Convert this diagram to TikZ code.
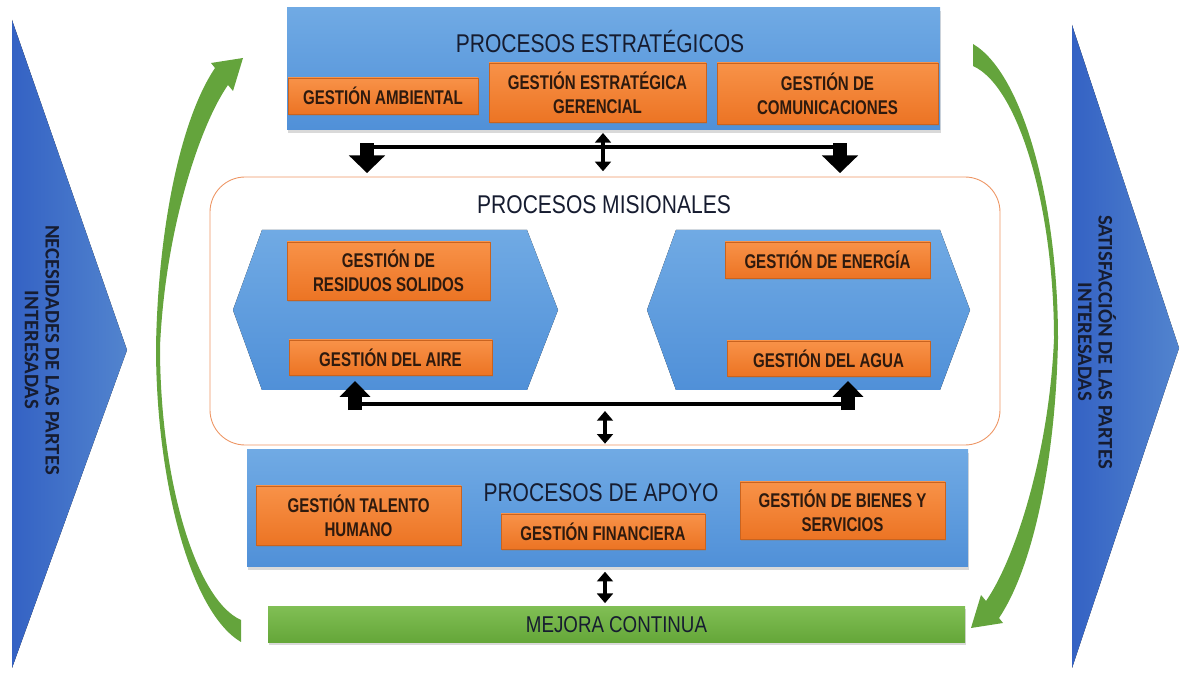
\documentclass[tikz,border=0pt]{standalone}
\usepackage{fontspec}
\setmainfont{Liberation Sans}[FakeStretch=0.82]
\newfontfamily\boxfont{Liberation Sans}[FakeStretch=0.76]
\newfontfamily\sidefont{Carlito}
\usepackage{tikz}
\usetikzlibrary{arrows.meta,shadows,fit,positioning}

\definecolor{boxblue}{RGB}{80,144,216}
\definecolor{boxbluelight}{RGB}{112,170,228}
\definecolor{boxorange}{RGB}{236,116,36}
\definecolor{boxorangelight}{RGB}{248,146,72}
\definecolor{triblue}{RGB}{52,98,196}
\definecolor{triblueright}{RGB}{82,132,206}
\definecolor{leafgreen}{RGB}{100,164,60}
\definecolor{mejoragreen}{RGB}{100,166,56}
\definecolor{mejoralight}{RGB}{128,190,84}
\definecolor{titleink}{RGB}{22,28,48}
\definecolor{boxink}{RGB}{46,26,14}
\definecolor{misborder}{RGB}{238,150,100}

\newcommand{\pxu}{0.02cm}

\begin{document}
\begin{tikzpicture}[x=0.02cm,y=-0.02cm,
	bluebox/.style={top color=boxbluelight,bottom color=boxblue,draw=none,inner sep=0pt,
		drop shadow={opacity=0.3,shadow xshift=0.8pt,shadow yshift=-1.5pt}},
	orangebox/.style={top color=boxorangelight,bottom color=boxorange,draw=boxorange!85!black,
		line width=0.3pt,inner sep=0pt,align=center,text=boxink,
		font=\boxfont\bfseries\fontsize{11.3}{13.6}\selectfont,
		drop shadow={opacity=0.35,shadow xshift=0.8pt,shadow yshift=-1.2pt}},
	greenbox/.style={top color=mejoralight,bottom color=mejoragreen,draw=none,inner sep=0pt,
		text=titleink,font=\fontsize{13}{15}\selectfont,
		drop shadow={opacity=0.3,shadow xshift=0.8pt,shadow yshift=-1.2pt}},
	misbox/.style={draw=misborder,fill=white,line width=0.5pt,rounded corners=20pt,inner sep=0pt},
	title/.style={text=titleink,font=\fontsize{14.6}{17}\selectfont},
	sidetext/.style={rotate=-90,align=center,text=titleink,font=\sidefont\bfseries\fontsize{11.8}{11.8}\selectfont},
	bigarrow/.style={black,line width=8pt,-{Triangle[width=20pt,length=10pt]}},
	uparrow/.style={black,line width=7.5pt,-{Triangle[width=17pt,length=9pt]}},
	dblarrow/.style={black,line width=2.6pt,{Triangle[width=9pt,length=5.5pt]}-{Triangle[width=9pt,length=5.5pt]}},
	bar/.style={black,line width=2.8pt}]
	\useasboundingbox (0,0) rectangle (1181,675);

	% flechas laterales
	\fill[left color=triblue,right color=triblueright] (12,20) -- (127,350) -- (12,668) -- cycle;
	\node[sidetext] (nec) at (42,350) {NECESIDADES DE LAS PARTES\\INTERESADAS};
	\fill[left color=triblue,right color=triblueright] (1072,25) -- (1179,348) -- (1072,668) -- cycle;
	\node[sidetext] (sat) at (1097,342) {SATISFACCIÓN DE LAS PARTES\\INTERESADAS};

	% ciclo de mejora (verde)
	\fill[leafgreen] (241,642) .. controls (190,612) and (156,480) .. (156,347)
		.. controls (158,230) and (180,120) .. (215,68) -- (211,63) -- (243,58) -- (233,91) -- (228,85)
		.. controls (200,125) and (165,230) .. (160,347) .. controls (160,480) and (196,600) .. (241,620) -- cycle;
	\begin{scope}[rotate around={180:(607,343)}]
		\fill[leafgreen] (241,642) .. controls (190,612) and (156,480) .. (156,347)
			.. controls (158,230) and (180,120) .. (215,68) -- (211,63) -- (243,58) -- (233,91) -- (228,85)
			.. controls (200,125) and (165,230) .. (160,347) .. controls (160,480) and (196,600) .. (241,620) -- cycle;
	\end{scope}

	% procesos estrategicos
	\node[bluebox,fit={(287,8) (940,130)}] (est) {};
	\node[title] (est-t) at (600,42) {PROCESOS ESTRATÉGICOS};
	\node[orangebox,minimum width=190*\pxu,minimum height=36*\pxu] (amb) at (383,96) {GESTIÓN AMBIENTAL};
	\node[orangebox,minimum width=217*\pxu,minimum height=59*\pxu] (ger) at (597.5,92.5) {GESTIÓN ESTRATÉGICA\\GERENCIAL};
	\node[orangebox,minimum width=221*\pxu,minimum height=61*\pxu] (com) at (827.5,93.5) {GESTIÓN DE\\COMUNICACIONES};

	% procesos misionales
	\node[misbox,fit={(210,177) (1000,445)}] (mis) {};
	\node[title] (mis-t) at (604,205) {PROCESOS MISIONALES};
	\fill[top color=boxbluelight,bottom color=boxblue] (233,310) -- (262,230) -- (527,230) -- (558,310)
		-- (527,390) -- (262,390) -- cycle;
	\fill[top color=boxbluelight,bottom color=boxblue] (647,310) -- (676,230) -- (940,230) -- (970,310)
		-- (940,390) -- (676,390) -- cycle;
	\coordinate (hl) at (395,381);
	\coordinate (hr) at (808,381);
	\node[orangebox,minimum width=203*\pxu,minimum height=58*\pxu] (res) at (388.5,271) {GESTIÓN DE\\RESIDUOS SOLIDOS};
	\node[orangebox,minimum width=203*\pxu,minimum height=35*\pxu] (aire) at (390.5,357.5) {GESTIÓN DEL AIRE};
	\node[orangebox,minimum width=205*\pxu,minimum height=36*\pxu] (ene) at (827.5,260) {GESTIÓN DE ENERGÍA};
	\node[orangebox,minimum width=203*\pxu,minimum height=35*\pxu] (agua) at (828.5,358.5) {GESTIÓN DEL AGUA};

	% procesos de apoyo
	\node[bluebox,fit={(247,450) (968,567)}] (apo) {};
	\node[title] (apo-t) at (601,493) {PROCESOS DE APOYO};
	\node[orangebox,minimum width=205*\pxu,minimum height=59*\pxu] (tal) at (358.5,515.5) {GESTIÓN TALENTO\\HUMANO};
	\node[orangebox,minimum width=204*\pxu,minimum height=35*\pxu] (fin) at (603,531.5) {GESTIÓN FINANCIERA};
	\node[orangebox,minimum width=205*\pxu,minimum height=57*\pxu] (bie) at (842.5,510.5) {GESTIÓN DE BIENES Y\\SERVICIOS};

	% mejora continua
	\node[greenbox,minimum width=697*\pxu,minimum height=36*\pxu] (mej) at (616.5,625) {MEJORA CONTINUA};

	% conectores arriba
	\coordinate (jl) at (367,147);
	\coordinate (jm) at (603,147);
	\coordinate (jr) at (840,147);
	\draw[bar] (jl) -- (jr);
	\draw[bigarrow,shorten >=2pt] ([yshift=2pt]jl) -- (jl |- mis.north);
	\draw[bigarrow,shorten >=2pt] ([yshift=2pt]jr) -- (jr |- mis.north);
	\draw[dblarrow,shorten <=1.5pt,shorten >=3pt] (jm |- est.south) -- (jm |- mis.north);

	% conectores abajo
	\coordinate (kl) at (355,404);
	\coordinate (km) at (605,404);
	\coordinate (kr) at (848,404);
	\draw[bar] (kl) -- (kr);
	\draw[uparrow] ([yshift=-3.5pt]kl) -- (kl |- hl);
	\draw[uparrow] ([yshift=-3.5pt]kr) -- (kr |- hr);
	\draw[dblarrow,shorten >=1pt] ([yshift=-4pt]km) -- (km |- mis.south);
	\draw[dblarrow,shorten <=2.5pt,shorten >=2pt] (km |- apo.south) -- (km |- mej.north);
\end{tikzpicture}
\end{document}
